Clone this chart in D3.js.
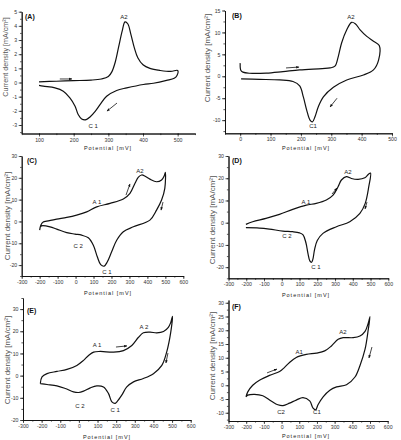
<!DOCTYPE html>
<html><head><meta charset="utf-8">
<script src="https://cdn.jsdelivr.net/npm/d3@7"></script>
<style>body{margin:0;background:#fff}svg{display:block;font-family:"Liberation Sans",Arial,sans-serif}</style>
</head><body>
<svg id="c" width="401" height="440"></svg>
<script>
// ---------- data (potential mV, current density mA/cm2) ----------
const aForward = [[100,0.05],[150,0.09],[200,0.13],[250,0.17],[280,0.25],[300,0.42],[310,0.75],[320,1.45],[330,2.55],[340,3.65],[348,4.28],[356,4.15],[365,3.4],[375,2.45],[385,1.75],[400,1.25],[420,1.0],[450,0.85],[480,0.78],[500,0.85]];
const aReverse = [[500,0.85],[498,0.5],[490,0.3],[468,0.15],[430,-0.05],[401,-0.14],[353,-0.38],[324,-0.56],[295,-0.97],[276,-1.56],[262,-2.03],[247,-2.43],[236,-2.62],[223,-2.57],[213,-2.26],[204,-1.67],[189,-1.08],[170,-0.61],[146,-0.38],[112,-0.26],[100,-0.2]];
const bForward = [[0,3.0],[2,1.4],[9,0.95],[31,0.69],[86,0.72],[141,1.07],[196,1.45],[270,1.75],[296,1.9],[312,2.3],[323,4.5],[334,7.6],[351,10.6],[367,12.3],[379,12.0],[395,10.6],[417,9.1],[439,8.0],[458,7.0]];
const bReverse = [[458,7.0],[456,3.75],[439,1.45],[406,0.3],[351,-0.84],[307,-2.5],[274,-4.7],[257,-7.0],[246,-9.3],[238,-10.4],[230,-10.0],[219,-7.7],[208,-4.7],[196,-2.2],[174,-1.2],[130,-0.84],[64,-0.7],[3,-0.6]];
const cForward = [[-200,-4.0],[-193,-1.6],[-180,-0.3],[-161,0.15],[-105,1.07],[-49,1.84],[6,2.9],[62,4.4],[118,6.7],[192,8.3],[266,10.3],[303,12.9],[331,17.5],[350,20.3],[368,21.3],[390,20.6],[414,19.4],[451,18.2],[479,19.0],[494,21.0],[500,22.5]];
const cReverse = [[500,22.5],[497,15.2],[479,9.8],[451,5.2],[414,0.6],[322,-2.45],[266,-4.7],[229,-8.6],[201,-13.9],[177,-18.5],[159,-20.5],[140,-19.8],[121,-16.2],[99,-10.9],[71,-7.5],[34,-6.3],[-3,-5.8],[-49,-5.1],[-105,-3.5],[-142,-2.45],[-189,-2.0],[-196,-2.4]];
const dForward = [[-202,-0.75],[-164,0.45],[-89,1.95],[-13,3.75],[62,6.0],[138,7.9],[194,8.7],[251,10.2],[289,12.4],[317,16.2],[336,19.2],[364,20.7],[392,19.9],[430,19.5],[468,20.2],[487,21.7],[500,22.3]];
const dReverse = [[500,22.3],[490,16.2],[470,8.7],[440,4.2],[383,0.45],[308,-1.8],[232,-4.8],[200,-8.0],[185,-12.0],[175,-16.5],[168,-17.8],[158,-17.2],[148,-14],[136,-9],[120,-5.5],[100,-4.6],[62,-4.05],[6,-3.75],[-70,-2.85],[-126,-2.4],[-202,-2.25]];
const eForward = [[-207,-3.6],[-198,-0.6],[-171,0.9],[-118,1.9],[-64,2.8],[-11,4.6],[25,6.9],[52,9.1],[79,10.6],[114,10.9],[186,10.6],[239,11.3],[284,13.6],[320,17.3],[346,19.3],[382,19.6],[418,19.3],[454,19.9],[480,21.8],[493,24.0],[502,26.7]];
const eReverse = [[502,26.7],[493,19.6],[471,10.6],[445,4.6],[400,0.9],[346,-1.3],[293,-2.8],[257,-5.1],[230,-8.8],[204,-11.8],[195,-12.5],[177,-11.8],[159,-8.1],[132,-5.1],[96,-4.6],[61,-5.5],[25,-7.0],[-2,-7.6],[-29,-7.3],[-73,-5.8],[-118,-4.6],[-171,-4.0],[-207,-3.6]];
const fForward = [[-201,-4.2],[-191,-2.4],[-163,0],[-125,1.8],[-68,3.6],[-11,5.0],[17,6.5],[45,8.3],[83,10.1],[140,11.2],[197,11.7],[244,12.5],[282,14.3],[320,16.7],[348,17.3],[405,17.3],[443,17.9],[472,19.6],[490,22.6],[500,25.0]];
const fReverse = [[500,25.0],[490,20.2],[472,13.1],[443,7.1],[415,3.0],[367,0.2],[311,-0.6],[273,-1.8],[235,-4.2],[206,-7.1],[193,-8.9],[178,-8.3],[159,-5.7],[121,-4.5],[83,-5.4],[45,-6.5],[8,-7.4],[-21,-7.1],[-59,-5.7],[-106,-3.8],[-153,-3.3],[-191,-3.6],[-201,-4.2]];

// ---------- ticks ----------
const aXTicks = [100,200,300,400,500];
const aYTicks = [-3,-2,-1,0,1,2,3,4,5];
const bXTicks = [0,100,200,300,400,500];
const bYTicks = [-10,-5,0,5,10,15];
const cdeXTicks = [-300,-200,-100,0,100,200,300,400,500,600];
const cdYTicks = [-20,-10,0,10,20,30];
const eYTicks = [-20,-10,0,10,20,30];
const fYTicks = [-10,-5,0,5,10,15,20,25,30];

// ---------- annotations (data units) ----------
const aLabels = [["A2",345,4.45],["C 1",256,-3.21]];
const aArrows = [[160,0.25,195,0.25],[325,-1.45,296,-2.02]];
const bLabels = [["A2",365,13.06],["C1",240,-11.8]];
const bArrows = [[151,1.9,194,2.1],[319,-5.0,296,-7.0]];
const cLabels = [["A2",359,22.4],["A 1",119,8.2],["C 2",14,-12.2],["C 1",175,-24.1]];
const cArrows = [[281,12.1,303,17.2],[487,8.9,476,5.2]];
const dLabels = [["A2",373,22.1],["A 1",136,8.2],["C 2",29,-7.1],["C 1",193,-20.6]];
const dArrows = [[283,12.9,311,15.6],[480,9.3,469,6.2]];
const eLabels = [["A 1",97,12.7],["A 2",349,20.8],["C 2",6,-14.8],["C 1",194,-16.2]];
const eArrows = [[199,12.9,258,13.4],[478,10.2,467,5.7]];
const fLabels = [["A1",99,11.5],["A2",347,18.8],["C2",-3,-10.3],["C1",200,-10.6]];
const fArrows = [[-82,4.5,-26,5.9],[511,13.9,494,9.9]];

const panels = [
  {key:"A", fwd:aForward, rev:aReverse, xDomain:[50,550], yDomain:[-3.6,5], xTicks:aXTicks, yTicks:aYTicks, xMinor:50, yMinor:0.5, labels:aLabels, arrows:aArrows},
  {key:"B", fwd:bForward, rev:bReverse, xDomain:[-50,500], yDomain:[-13,15], xTicks:bXTicks, yTicks:bYTicks, xMinor:50, yMinor:2.5, labels:bLabels, arrows:bArrows},
  {key:"C", fwd:cForward, rev:cReverse, xDomain:[-300,600], yDomain:[-25,30], xTicks:cdeXTicks, yTicks:cdYTicks, xMinor:50, yMinor:5, labels:cLabels, arrows:cArrows},
  {key:"D", fwd:dForward, rev:dReverse, xDomain:[-300,600], yDomain:[-25,30], xTicks:cdeXTicks, yTicks:cdYTicks, xMinor:50, yMinor:5, labels:dLabels, arrows:dArrows},
  {key:"E", fwd:eForward, rev:eReverse, xDomain:[-300,600], yDomain:[-20,35], xTicks:cdeXTicks, yTicks:eYTicks, xMinor:50, yMinor:5, labels:eLabels, arrows:eArrows},
  {key:"F", fwd:fForward, rev:fReverse, xDomain:[-300,600], yDomain:[-13,31], xTicks:cdeXTicks, yTicks:fYTicks, xMinor:50, yMinor:2.5, labels:fLabels, arrows:fArrows}
];

// ---------- layout (pixels) ----------
const layout = {
  A:{x0:21.7,x1:195,y0:133.5,y1:11.7, tag:[25,19], yl:[5,57,7.2], xl:[108,150]},
  B:{x0:225,x1:392,y0:133.3,y1:10.5, tag:[232,18], yl:[207,58,8], xl:[306,150]},
  C:{x0:21.7,x1:183.3,y0:276,y1:156, tag:[27,163], yl:[7,216,8], xl:[108,294.5]},
  D:{x0:228.5,x1:388.3,y0:278.3,y1:156, tag:[232,163], yl:[212,220,8], xl:[306,296.5]},
  E:{x0:23,x1:190.7,y0:420,y1:298, tag:[27,313], yl:[7,360,8], xl:[107,439]},
  F:{x0:228.5,x1:387.7,y0:421,y1:300, tag:[232,309], yl:[212,356,8], xl:[306,437.5]}
};

const svg = d3.select("#c");
svg.append("defs").append("marker")
  .attr("id","ah").attr("viewBox","0 0 10 10").attr("refX",9).attr("refY",5)
  .attr("markerWidth",4).attr("markerHeight",4).attr("orient","auto-start-reverse")
  .append("path").attr("d","M0,1 L10,5 L0,9 Z").attr("fill","#111");

const line = d3.line().curve(d3.curveCatmullRom.alpha(0.5));

panels.forEach(p => {
  const L = layout[p.key];
  const x = d3.scaleLinear().domain(p.xDomain).range([L.x0, L.x1]);
  const y = d3.scaleLinear().domain(p.yDomain).range([L.y0, L.y1]);
  const g = svg.append("g");
  const xMinor = d3.range(p.xDomain[0], p.xDomain[1] + 1e-9, p.xMinor);
  const yMinor = d3.range(Math.ceil(p.yDomain[0]/p.yMinor)*p.yMinor, p.yDomain[1] + 1e-9, p.yMinor);

  const styleAxis = s => {
    s.select(".domain").attr("stroke","#111").attr("stroke-width",0.9);
    s.selectAll(".tick line").attr("stroke","#111").attr("stroke-width",0.7);
    s.selectAll(".tick text").attr("font-size",5.2).attr("fill","#333")
      .attr("font-family","'Liberation Sans',Arial,sans-serif");
  };
  g.append("g").attr("transform",`translate(0,${L.y0})`)
    .call(d3.axisBottom(x).tickValues(xMinor).tickSize(1.6).tickSizeOuter(0).tickFormat(""))
    .call(styleAxis);
  g.append("g").attr("transform",`translate(0,${L.y0})`)
    .call(d3.axisBottom(x).tickValues(p.xTicks).tickSize(3).tickSizeOuter(0).tickPadding(1.5).tickFormat(d => String(d)))
    .call(styleAxis);
  g.append("g").attr("transform",`translate(${L.x0},0)`)
    .call(d3.axisLeft(y).tickValues(yMinor).tickSize(1.6).tickSizeOuter(0).tickFormat(""))
    .call(styleAxis);
  g.append("g").attr("transform",`translate(${L.x0},0)`)
    .call(d3.axisLeft(y).tickValues(p.yTicks).tickSize(3).tickSizeOuter(0).tickPadding(1.5).tickFormat(d => String(d)))
    .call(styleAxis);

  // curve
  const pts = p.fwd.concat(p.rev.slice(1)).map(d => [x(d[0]), y(d[1])]);
  g.append("path").attr("d", line(pts)).attr("fill","none")
    .attr("stroke","#111").attr("stroke-width",1.2).attr("stroke-linejoin","round");

  // annotations
  p.labels.forEach(l => {
    g.append("text").attr("x", x(l[1])).attr("y", y(l[2]))
      .attr("text-anchor","middle").attr("font-size",6).attr("fill","#222").text(l[0]);
  });
  p.arrows.forEach(a => {
    g.append("line").attr("x1",x(a[0])).attr("y1",y(a[1])).attr("x2",x(a[2])).attr("y2",y(a[3]))
      .attr("stroke","#111").attr("stroke-width",0.8).attr("marker-end","url(#ah)");
  });

  // panel tag
  g.append("text").attr("x",L.tag[0]).attr("y",L.tag[1]).attr("font-size",7)
    .attr("font-weight","bold").attr("fill","#111").text(`(${p.key})`);
  // y label
  g.append("text").attr("transform",`translate(${L.yl[0]},${L.yl[1]}) rotate(-90)`)
    .attr("text-anchor","middle").attr("dominant-baseline","central")
    .attr("font-size",L.yl[2]).attr("fill","#555")
    .text("Current density [mA/cm²]");
  // x label
  g.append("text").attr("x",L.xl[0]).attr("y",L.xl[1]).attr("text-anchor","middle")
    .attr("font-size",5.5).attr("letter-spacing","1").attr("fill","#222").text("Potential [mV]");
});
</script>
</body></html>
